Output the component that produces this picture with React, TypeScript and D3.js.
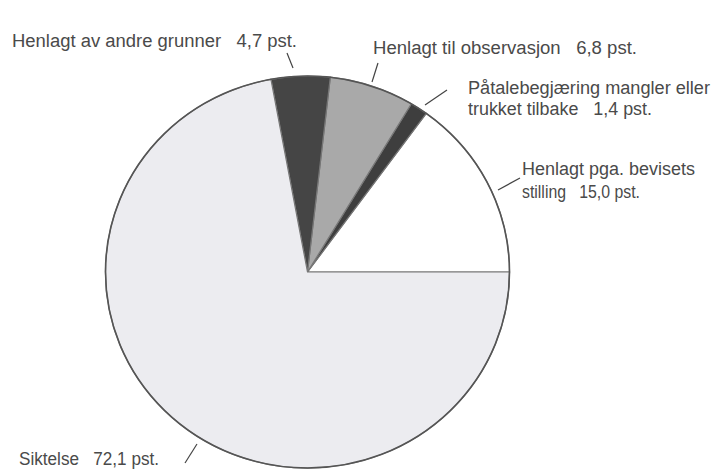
import React from "react";
import * as d3 from "d3";

// pie slices, counter-clockwise from 3 o'clock
const categories = [
  "Henlagt pga. bevisets stilling",
  "Påtalebegjæring mangler eller trukket tilbake",
  "Henlagt til observasjon",
  "Henlagt av andre grunner",
  "Siktelse",
];
const values = [15.0, 1.4, 6.8, 4.7, 72.1];
const colors = ["#ffffff", "#3e3e3e", "#a9a9a9", "#454545", "#ececf0"];

// label text lines per slice (value appended to last line)
const labelLines = [
  ["Henlagt pga. bevisets", "stilling"],
  ["Påtalebegjæring mangler eller", "trukket tilbake"],
  ["Henlagt til observasjon"],
  ["Henlagt av andre grunner"],
  ["Siktelse"],
];

// layout: label position, line widths, leader line
const labelLayout = [
  { x: 522, y: 175, dy: 23, widths: [173, 118], leader: [[498, 190], [520, 178]] },
  { x: 468, y: 94, dy: 21, widths: [242, 184], leader: [[425, 105], [447, 90]] },
  { x: 373, y: 54, dy: 0, widths: [264], leader: [[372, 82], [378, 63]] },
  { x: 12, y: 47, dy: 0, widths: [285], leader: [[293, 68], [287, 53]] },
  { x: 19, y: 465, dy: 0, widths: [140], leader: [[185, 463], [197, 444]] },
];

const W = 712;
const H = 470;
const cx = 307.5;
const cy = 272;
const rx = 202;
const ry = 196;

const fmt = (v: number) => v.toFixed(1).replace(".", ",");

export default function App() {
  const pie = d3
    .pie<number>()
    .sort(null)
    .startAngle(Math.PI / 2)
    .endAngle(Math.PI / 2 - 2 * Math.PI);
  const arcs = pie(values);
  const arc = d3.arc<d3.PieArcDatum<number>>().innerRadius(0).outerRadius(1);

  return (
    <svg
      width={W}
      height={H}
      style={{ position: "absolute", left: 0, top: 0, background: "#fff" }}
      fontFamily="'Liberation Sans', Arial, sans-serif"
    >
      <g transform={`translate(${cx},${cy}) scale(${rx},${ry})`}>
        {arcs.map((a, i) => (
          <path
            key={categories[i]}
            d={arc(a) || ""}
            fill={colors[i]}
            stroke="#777"
            strokeWidth={1.2}
            vectorEffect="non-scaling-stroke"
          />
        ))}
        <ellipse
          cx={0}
          cy={0}
          rx={1}
          ry={1}
          fill="none"
          stroke="#555"
          strokeWidth={1.6}
          vectorEffect="non-scaling-stroke"
        />
      </g>
      {labelLayout.map((l, i) => {
        const lines = labelLines[i].map((t, j) =>
          j === labelLines[i].length - 1 ? `${t}   ${fmt(values[i])} pst.` : t
        );
        return (
          <g key={categories[i]}>
            <line
              x1={l.leader[0][0]}
              y1={l.leader[0][1]}
              x2={l.leader[1][0]}
              y2={l.leader[1][1]}
              stroke="#444"
              strokeWidth={1.2}
            />
            {lines.map((t, j) => (
              <text
                key={j}
                x={l.x}
                y={l.y + j * l.dy}
                fontSize={18}
                fill="#4a4a4a"
                textLength={l.widths[j]}
                lengthAdjust="spacingAndGlyphs"
                style={{ whiteSpace: "pre" }}
              >
                {t}
              </text>
            ))}
          </g>
        );
      })}
    </svg>
  );
}
